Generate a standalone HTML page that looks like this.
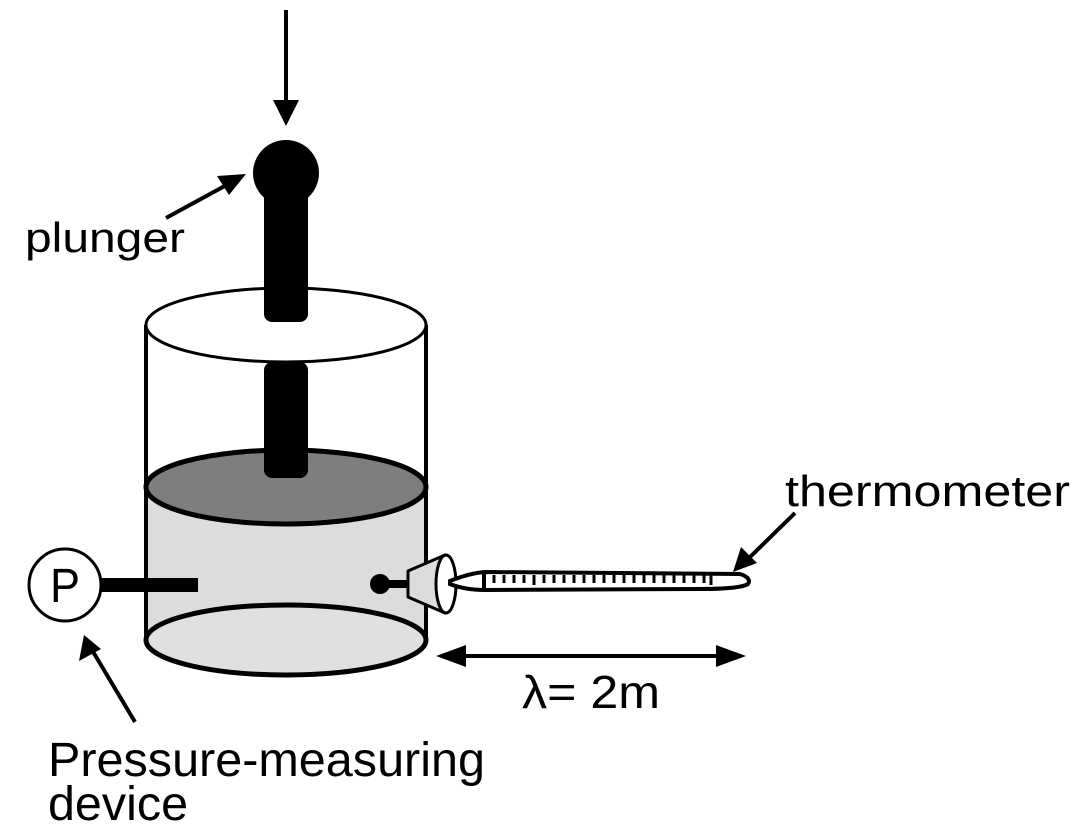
<!DOCTYPE html>
<html><head><meta charset="utf-8"><style>html,body{margin:0;padding:0;background:#fff}svg{display:block}</style></head>
<body>
<svg width="1086" height="840" viewBox="0 0 1086 840" xmlns="http://www.w3.org/2000/svg" font-family="Liberation Sans, sans-serif">
<!-- cylinder -->
<rect x="146" y="487" width="280" height="153" fill="#dcdcdc"/>
<ellipse cx="286" cy="640" rx="140" ry="35" fill="#e0e0e0" stroke="#000" stroke-width="5"/>
<ellipse cx="286" cy="487" rx="140" ry="37" fill="#7e7e7e" stroke="#000" stroke-width="5"/>
<line x1="146" y1="325" x2="146" y2="640" stroke="#000" stroke-width="4"/>
<line x1="426" y1="325" x2="426" y2="640" stroke="#000" stroke-width="4"/>
<!-- lower rod -->
<rect x="264" y="362" width="44" height="116" rx="8" fill="#000"/>
<ellipse cx="286" cy="325" rx="140" ry="37" fill="#fff" stroke="#000" stroke-width="3"/>
<!-- upper rod & knob -->
<rect x="264" y="180" width="44" height="142" rx="8" fill="#000"/>
<circle cx="286" cy="173" r="33" fill="#000"/>
<!-- top arrow -->
<line x1="286" y1="10" x2="286" y2="105" stroke="#000" stroke-width="4"/>
<polygon points="273,100 299,100 286,126" fill="#000"/>
<!-- plunger arrow -->
<line x1="166" y1="218" x2="232" y2="182" stroke="#000" stroke-width="4"/>
<polygon points="246,174 217,176 229,195" fill="#000"/>
<text x="25" y="252" font-size="42" textLength="160" lengthAdjust="spacingAndGlyphs">plunger</text>
<!-- P gauge -->
<circle cx="65" cy="585" r="36" fill="#fff" stroke="#000" stroke-width="3"/>
<text x="65" y="602" font-size="48" text-anchor="middle" textLength="30" lengthAdjust="spacingAndGlyphs">P</text>
<rect x="101" y="578" width="97" height="14" fill="#000"/>
<!-- pressure arrow -->
<line x1="135" y1="722" x2="92" y2="650" stroke="#000" stroke-width="4"/>
<polygon points="84,635 79,661 101,649" fill="#000"/>
<text x="48" y="776" font-size="48" textLength="437" lengthAdjust="spacingAndGlyphs">Pressure-measuring</text>
<text x="48" y="820" font-size="48" textLength="140" lengthAdjust="spacingAndGlyphs">device</text>
<!-- thermometer fitting -->
<circle cx="380" cy="584" r="10" fill="#000"/>
<rect x="380" y="580" width="30" height="8" fill="#000"/>
<polygon points="408,571 445,555 445,613 408,597" fill="#dcdcdc" stroke="#000" stroke-width="3" stroke-linejoin="round"/>
<ellipse cx="446" cy="584" rx="10" ry="29" fill="#fff" stroke="#000" stroke-width="3"/>
<!-- thermometer -->
<path d="M450,581 Q470,573 485,572 L740,574 Q752,578 748,584 Q740,589 700,589 L485,590 Q465,590 450,584 Z" fill="#fff" stroke="#000" stroke-width="4"/>
<rect x="482" y="573" width="4" height="17" fill="#000"/>
<g stroke="#000" stroke-width="3">
<line x1="494" y1="575" x2="494" y2="583"/><line x1="504" y1="575" x2="504" y2="583"/><line x1="514" y1="575" x2="514" y2="583"/><line x1="524" y1="575" x2="524" y2="583"/><line x1="534" y1="575" x2="534" y2="585"/><line x1="544" y1="575" x2="544" y2="583"/><line x1="554" y1="575" x2="554" y2="583"/><line x1="564" y1="575" x2="564" y2="583"/><line x1="574" y1="575" x2="574" y2="583"/><line x1="584" y1="575" x2="584" y2="583"/><line x1="594" y1="575" x2="594" y2="583"/><line x1="604" y1="575" x2="604" y2="583"/><line x1="614" y1="575" x2="614" y2="583"/><line x1="624" y1="575" x2="624" y2="583"/><line x1="634" y1="575" x2="634" y2="583"/><line x1="644" y1="575" x2="644" y2="583"/><line x1="654" y1="575" x2="654" y2="583"/><line x1="664" y1="575" x2="664" y2="583"/><line x1="674" y1="575" x2="674" y2="583"/><line x1="684" y1="575" x2="684" y2="583"/><line x1="694" y1="575" x2="694" y2="583"/><line x1="704" y1="575" x2="704" y2="583"/><line x1="711" y1="575" x2="711" y2="585"/>
</g>
<!-- thermometer label & arrow -->
<text x="785" y="506" font-size="44" textLength="285" lengthAdjust="spacingAndGlyphs">thermometer</text>
<line x1="795" y1="513" x2="748" y2="559" stroke="#000" stroke-width="4"/>
<polygon points="733,572 741,547 757,563" fill="#000"/>
<!-- dimension arrow -->
<line x1="450" y1="656" x2="730" y2="656" stroke="#000" stroke-width="4"/>
<polygon points="436,656 466,645 466,667" fill="#000"/>
<polygon points="746,656 716,645 716,667" fill="#000"/>
<text x="522" y="708" font-size="46" textLength="138" lengthAdjust="spacingAndGlyphs">λ= 2m</text>
</svg>
</body></html>
